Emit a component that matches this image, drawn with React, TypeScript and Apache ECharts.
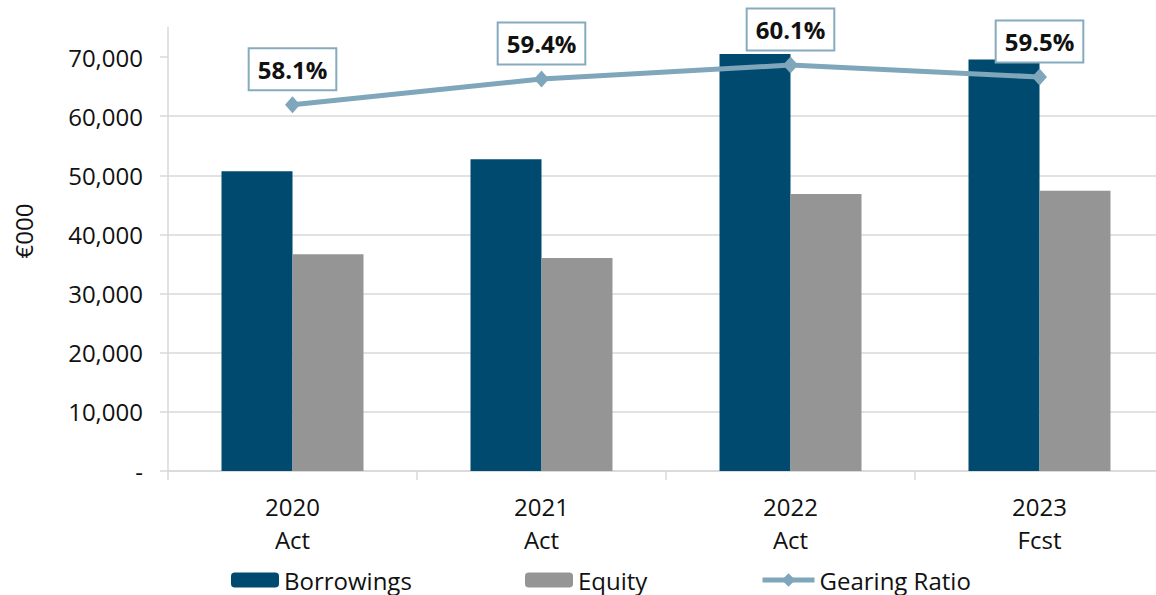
import React, { useEffect, useRef } from "react";
import * as echarts from "echarts";

const categories = ["2020\nAct", "2021\nAct", "2022\nAct", "2023\nFcst"];
const borrowings = [50700, 52700, 70500, 69600];
const equity = [36650, 36030, 46850, 47410];
const gearingRatio = [0.581, 0.594, 0.601, 0.595];
const yTickValues = [0, 10000, 20000, 30000, 40000, 50000, 60000, 70000];

const FONT = "Open Sans";
const TEXT = "#111111";
const NAVY = "#014A6F";
const GREY = "#959595";
const LINE = "#7FA6BA";
const GRID = "#D9D9D9";

export default function App() {
  const ref = useRef<HTMLDivElement>(null);

  useEffect(() => {
    if (!ref.current) return;
    const chart = echarts.init(ref.current, undefined, { renderer: "svg" });
    const legendText = { fontFamily: FONT, fontSize: 24, color: TEXT, lineHeight: 24 };
    const legendBase = {
      top: 568,
      padding: 0,
      itemWidth: 48,
      itemHeight: 15,
      textStyle: legendText,
      selectedMode: false,
    };
    chart.setOption({
      animation: false,
      backgroundColor: "#ffffff",
      textStyle: { fontFamily: FONT },
      grid: {
        left: 168,
        right: -8,
        top: 27.5,
        bottom: 124,
        containLabel: false,
        outerBoundsMode: "none",
      },
      legend: [
        { ...legendBase, data: ["Borrowings"], left: 231 },
        { ...legendBase, data: ["Equity"], left: 525 },
        {
          ...legendBase,
          data: ["Gearing Ratio"],
          left: 760,
          itemWidth: 52,
          itemHeight: 17,
          lineStyle: { width: 5 },
        },
      ],
      xAxis: {
        type: "category",
        data: categories,
        boundaryGap: true,
        axisLine: { show: true, lineStyle: { color: GRID, width: 1.5 } },
        axisTick: { show: true, length: 9, lineStyle: { color: GRID, width: 1.5 } },
        axisLabel: {
          margin: 19,
          fontFamily: FONT,
          fontSize: 24,
          lineHeight: 33,
          color: TEXT,
        },
      },
      yAxis: [
        {
          type: "value",
          min: 0,
          max: 75000,
          interval: 10000,
          axisLine: { show: true, lineStyle: { color: GRID, width: 1.5 } },
          axisTick: {
            show: true,
            length: 8,
            customValues: yTickValues,
            lineStyle: { color: GRID, width: 1.5 },
          },
          splitLine: {
            show: true,
            showMaxLine: false,
            lineStyle: { color: GRID, width: 1.5 },
          },
          axisLabel: {
            margin: 25,
            fontFamily: FONT,
            fontSize: 24,
            color: TEXT,
            customValues: yTickValues,
            formatter: (v: number) => (v === 0 ? "-" : v.toLocaleString("en-US")),
          },
        },
        {
          type: "value",
          min: 0.396,
          max: 0.62,
          show: false,
          splitLine: { show: false },
        },
      ],
      series: [
        {
          name: "Borrowings",
          type: "bar",
          data: borrowings,
          barWidth: 71,
          barGap: "0%",
          itemStyle: { color: NAVY },
          clip: false,
        },
        {
          name: "Equity",
          type: "bar",
          data: equity,
          barWidth: 71,
          barGap: "0%",
          itemStyle: { color: GREY },
        },
        {
          name: "Gearing Ratio",
          type: "line",
          yAxisIndex: 1,
          data: gearingRatio,
          symbol: "diamond",
          symbolSize: [15, 17],
          lineStyle: { color: LINE, width: 5 },
          itemStyle: { color: LINE },
          z: 5,
          label: {
            show: true,
            position: "top",
            distance: 7,
            formatter: (p: any) => (p.value * 100).toFixed(1) + "%",
            fontFamily: FONT,
            fontSize: 24,
            fontWeight: "bold",
            color: TEXT,
            lineHeight: 28,
            backgroundColor: "#ffffff",
            borderColor: "#86ABBF",
            borderWidth: 2,
            padding: [6, 8, 6, 8],
          },
        },
      ],
      graphic: [
        {
          type: "text",
          x: 23,
          y: 231,
          rotation: Math.PI / 2,
          style: {
            text: "€000",
            fontFamily: FONT,
            fontSize: 24,
            fill: TEXT,
            textAlign: "center",
            textVerticalAlign: "middle",
          },
        },
      ],
    });
    return () => chart.dispose();
  }, []);

  return (
    <div
      ref={ref}
      style={{ position: "absolute", left: 0, top: 0, width: 1156, height: 595 }}
    />
  );
}
